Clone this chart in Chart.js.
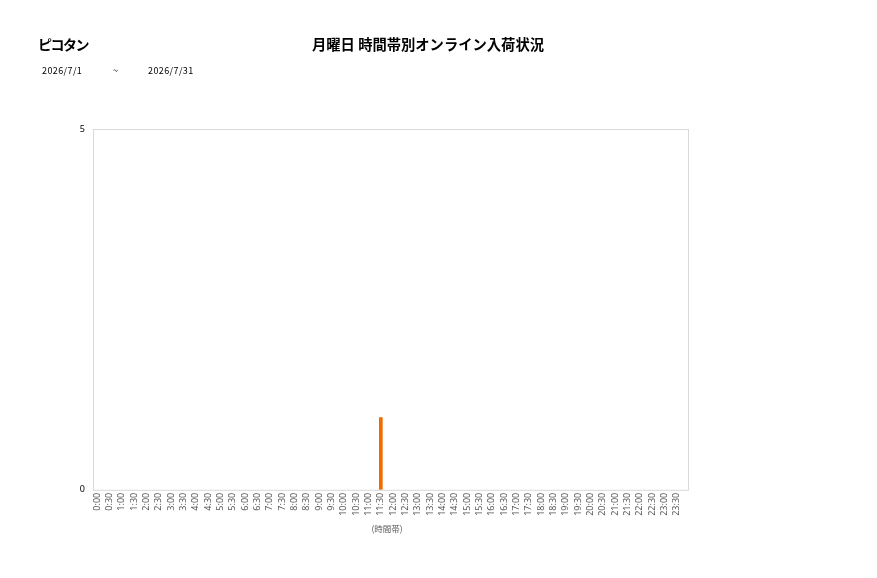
<!DOCTYPE html>
<html>
<head>
<meta charset="utf-8">
<script src="https://cdn.jsdelivr.net/npm/chart.js@4"></script>
<style>
  body { margin: 0; background: #fff; font-family: "Noto Sans CJK JP", "Noto Sans", sans-serif; }
  #wrap { position: relative; width: 877px; height: 578px; }
  .txt { position: absolute; color: #000; white-space: nowrap; }
</style>
</head>
<body>
<div id="wrap">
  <div class="txt" style="left:38px; top:34px; font-size:14px; font-weight:bold; letter-spacing:-1.5px;">ピコタン</div>
  <div class="txt" style="left:312px; top:33px; font-size:14.3px; font-weight:bold;">月曜日 時間帯別オンライン入荷状況</div>
  <div class="txt" style="left:42px; top:64px; font-size:9px; letter-spacing:0.4px;">2026/7/1</div>
  <div class="txt" style="left:113px; top:64px; font-size:9px;">~</div>
  <div class="txt" style="left:148px; top:64px; font-size:9px; letter-spacing:0.4px;">2026/7/31</div>
  <canvas id="chart" width="877" height="578"></canvas>
</div>
<script>
// time slots (every 30 min) and arrivals per slot
const timeSlots = ["0:00","0:30","1:00","1:30","2:00","2:30","3:00","3:30","4:00","4:30",
  "5:00","5:30","6:00","6:30","7:00","7:30","8:00","8:30","9:00","9:30",
  "10:00","10:30","11:00","11:30","12:00","12:30","13:00","13:30","14:00","14:30",
  "15:00","15:30","16:00","16:30","17:00","17:30","18:00","18:30","19:00","19:30",
  "20:00","20:30","21:00","21:30","22:00","22:30","23:00","23:30"];
const arrivals = [0,0,0,0,0,0,0,0,0,0,
  0,0,0,0,0,0,0,0,0,0,
  0,0,0,1,0,0,0,0,0,0,
  0,0,0,0,0,0,0,0,0,0,
  0,0,0,0,0,0,0,0];
const yTicks = [0, 5];

// light box round the plot area (Excel draws it a little wider than the category band)
const plotBox = {
    id: 'plotBox',
    afterDraw: function(chart) {
        const a = chart.chartArea, ctx = chart.ctx;
        ctx.save();
        ctx.strokeStyle = '#d9d9d9';
        ctx.lineWidth = 1;
        ctx.strokeRect(a.left + 2.5, a.top + 0.5, a.right - a.left + 3, a.bottom - a.top);
        ctx.restore();
    }
};

new Chart(document.getElementById('chart'), {
    type: 'bar',
    plugins: [plotBox],
    data: {
        labels: timeSlots,
        datasets: [{
            data: arrivals.map(v => v || null),   // skip empty slots so no stubs are drawn
            backgroundColor: '#f06c00',
            barThickness: 3
        }]
    },
    options: {
        responsive: false,
        animation: false,
        layout: { padding: { left: 61, top: 129, right: 194, bottom: 44 } },
        plugins: { legend: { display: false }, tooltip: { enabled: false } },
        scales: {
            x: {
                grid: { display: false, drawTicks: false },
                border: { display: false },
                ticks: {
                    autoSkip: false, minRotation: 90, maxRotation: 90, padding: 3,
                    color: '#595959', font: { size: 9, family: 'Noto Sans' }
                },
                title: {
                    display: true, text: '(時間帯)', color: '#595959',
                    font: { size: 8.5, family: 'Noto Sans CJK JP' }, padding: { top: 5, bottom: 0 }
                }
            },
            y: {
                min: 0, max: 5,
                afterBuildTicks: function(scale) { scale.ticks = yTicks.map(v => ({ value: v })); },
                afterFit: function(scale) { scale.width = 30; },
                grid: { display: false, drawTicks: false },
                border: { display: false },
                ticks: { color: '#000', padding: 6, font: { size: 9, family: 'Noto Sans' } }
            }
        }
    }
});
</script>
</body>
</html>
